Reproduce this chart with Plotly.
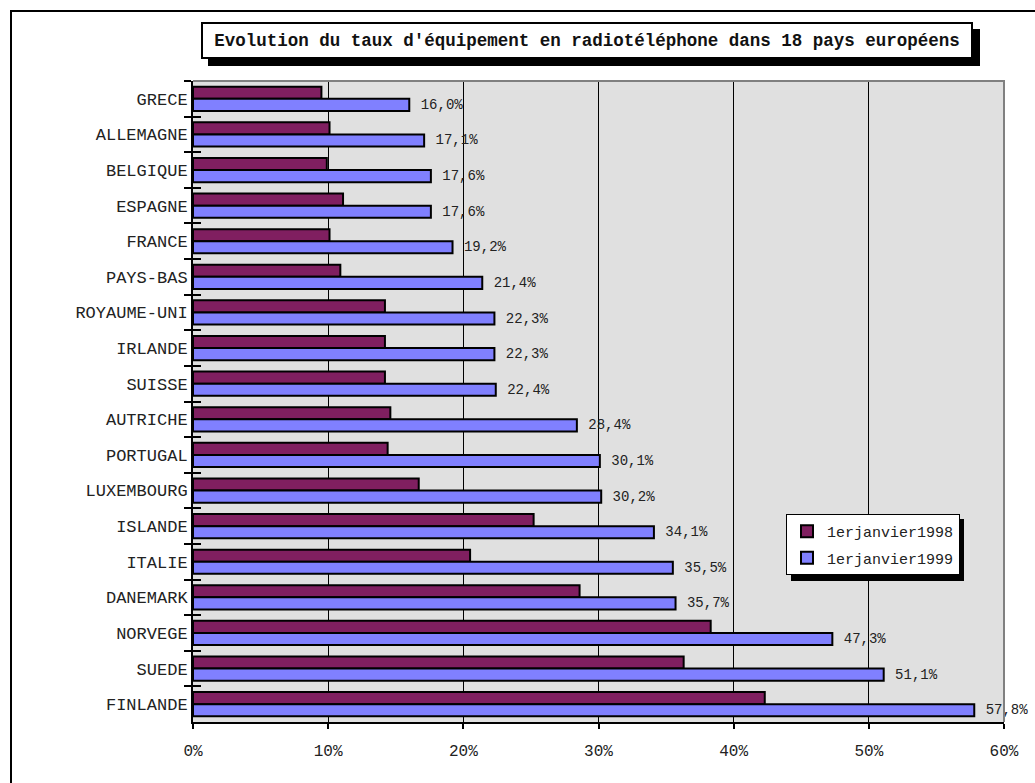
import plotly.graph_objects as go

# Données : taux d'équipement en radiotéléphone (%)
pays = ["GRECE", "ALLEMAGNE", "BELGIQUE", "ESPAGNE", "FRANCE", "PAYS-BAS",
        "ROYAUME-UNI", "IRLANDE", "SUISSE", "AUTRICHE", "PORTUGAL", "LUXEMBOURG",
        "ISLANDE", "ITALIE", "DANEMARK", "NORVEGE", "SUEDE", "FINLANDE"]
taux_1998 = [9.5, 10.1, 9.9, 11.1, 10.1, 10.9, 14.2, 14.2, 14.2, 14.6, 14.4,
             16.7, 25.2, 20.5, 28.6, 38.3, 36.3, 42.3]
taux_1999 = [16.0, 17.1, 17.6, 17.6, 19.2, 21.4, 22.3, 22.3, 22.4, 28.4, 30.1,
             30.2, 34.1, 35.5, 35.7, 47.3, 51.1, 57.8]
series = ["1erjanvier1998", "1erjanvier1999"]
x_ticks = [0, 10, 20, 30, 40, 50, 60]
x_ticktext = [f"{v}%" for v in x_ticks]

titre = "Evolution du taux d'équipement en radiotéléphone dans 18 pays européens"

# Géométrie de la page (pixels)
W, H = 1035, 783
ML, MR, MT, MB = 193, 31, 81, 61
PW, PH = W - ML - MR, H - MT - MB

def px(x):
    return (x - ML) / PW

def py(y):
    return (H - MB - y) / PH

MONO = "Liberation Mono, Courier New, monospace"
COL_98 = "#801F60"
COL_99 = "#8080FF"

labels_99 = ["\u00a0" + f"{v:.1f}%".replace(".", ",") for v in taux_1999]

fig = go.Figure()
fig.add_trace(go.Bar(
    y=pays, x=taux_1998, orientation="h", name=series[0],
    marker=dict(color=COL_98, line=dict(color="black", width=2)),
    legendgroup="a", cliponaxis=False, hoverinfo="x+y",
))
fig.add_trace(go.Bar(
    y=pays, x=taux_1999, orientation="h", name=series[1],
    marker=dict(color=COL_99, line=dict(color="black", width=2)),
    text=labels_99, textposition="outside", constraintext="none",
    textfont=dict(family=MONO, size=14, color="#222222"),
    legendgroup="b", cliponaxis=False, hoverinfo="x+y",
))
# Trace vide pour faire apparaître l'axe secondaire des graduations
fig.add_trace(go.Scatter(
    x=[None], y=[None], yaxis="y2", mode="markers",
    showlegend=False, hoverinfo="skip",
))

n = len(pays)
fig.update_layout(
    width=W, height=H,
    margin=dict(l=ML, r=MR, t=MT, b=MB, pad=0),
    paper_bgcolor="white",
    plot_bgcolor="#E0E0E0",
    barmode="group", bargap=0.32, bargroupgap=0,
    font=dict(family=MONO, color="#222222"),
    showlegend=True,
    legend=dict(
        x=px(786), y=py(514), xanchor="left", yanchor="top",
        bgcolor="white", bordercolor="black", borderwidth=1,
        font=dict(family=MONO, size=15, color="#222222"),
        traceorder="grouped", tracegroupgap=4,
        itemwidth=30,
    ),
    xaxis=dict(
        range=[0, 60], tickmode="array", tickvals=x_ticks, ticktext=x_ticktext,
        showgrid=True, gridcolor="black", gridwidth=1,
        showline=True, linecolor="black", linewidth=2,
        ticks="outside", ticklen=5, tickwidth=2, tickcolor="black",
        ticklabelstandoff=8,
        tickfont=dict(family=MONO, size=16, color="#222222"),
        zeroline=False, fixedrange=True,
    ),
    yaxis=dict(
        categoryorder="array", categoryarray=pays, autorange="reversed",
        showline=True, linecolor="black", linewidth=2,
        ticks="outside", tickson="boundaries", ticklen=7, tickwidth=2,
        tickcolor="black",
        tickfont=dict(family=MONO, size=17, color="#222222"),
        showgrid=False, fixedrange=True,
    ),
    # Demi-graduations vers l'intérieur de l'axe des pays
    yaxis2=dict(
        overlaying="y", anchor="x", side="left",
        range=[n - 0.5, -0.5],
        tickmode="array", tickvals=[i - 0.5 for i in range(n + 1)],
        ticks="inside", ticklen=8, tickwidth=2, tickcolor="black",
        showticklabels=False, showgrid=False, showline=False,
        zeroline=False, fixedrange=True,
    ),
)

shapes = []
# Cadre extérieur de la page
shapes.append(dict(type="rect", xref="paper", yref="paper",
                   x0=px(11), x1=px(1045), y0=py(795), y1=py(11),
                   line=dict(color="black", width=2), fillcolor="rgba(0,0,0,0)",
                   layer="below"))
# Bord gris de la zone de tracé (haut et droite)
shapes.append(dict(type="path", xref="paper", yref="paper",
                   path="M 0 1 L 1 1 L 1 0",
                   line=dict(color="#808080", width=2), layer="above"))
# Ombre du titre
shapes.append(dict(type="rect", xref="paper", yref="paper",
                   x0=px(208), x1=px(980), y0=py(66), y1=py(29),
                   line=dict(width=0), fillcolor="black", layer="above"))
# Ombre de la légende
shapes.append(dict(type="rect", xref="paper", yref="paper",
                   x0=px(791), x1=px(964), y0=py(581), y1=py(519),
                   line=dict(width=0), fillcolor="black", layer="above"))
fig.update_layout(shapes=shapes)

fig.add_annotation(
    text=f"<b>{titre}</b>", xref="paper", yref="paper",
    x=px(587), y=py(40.5), xanchor="center", yanchor="middle",
    showarrow=False, width=766, height=31, borderpad=1,
    bgcolor="white", bordercolor="black", borderwidth=2,
    font=dict(family=MONO, size=17.5, color="#111111"),
)

fig.write_html("out.html")
